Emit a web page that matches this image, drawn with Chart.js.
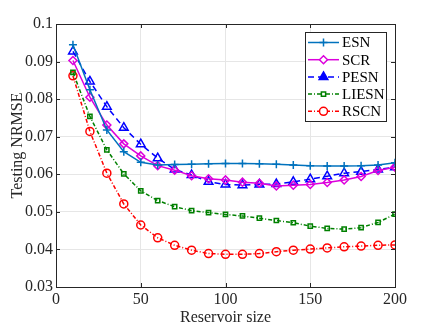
<!DOCTYPE html>
<html>
<head>
<meta charset="utf-8">
<script src="https://cdn.jsdelivr.net/npm/chart.js@4.4.1/dist/chart.umd.min.js"></script>
<style>
  html, body { margin: 0; padding: 0; background: #fff; }
  #wrap { width: 436px; height: 327px; }
</style>
</head>
<body>
<div id="wrap"><canvas id="myChart" width="436" height="327"></canvas></div>
<script>
// data
const sizes = [10, 20, 30, 40, 50, 60, 70, 80, 90, 100, 110, 120, 130, 140, 150, 160, 170, 180, 190, 200];
const esn   = [0.0945, 0.0825, 0.0718, 0.0660, 0.0632, 0.0625, 0.0626, 0.0627, 0.0628, 0.0629, 0.0629, 0.0628, 0.0627, 0.0625, 0.0623, 0.0622, 0.0622, 0.0623, 0.0625, 0.0631];
const scr   = [0.0903, 0.0805, 0.0731, 0.0681, 0.0649, 0.0623, 0.0611, 0.0596, 0.0588, 0.0585, 0.0579, 0.0576, 0.0569, 0.0571, 0.0573, 0.0578, 0.0585, 0.0594, 0.0610, 0.0619];
const pesn  = [0.0927, 0.0847, 0.0780, 0.0724, 0.0680, 0.0643, 0.0613, 0.0598, 0.0580, 0.0573, 0.0571, 0.0573, 0.0574, 0.0580, 0.0587, 0.0595, 0.0603, 0.0607, 0.0613, 0.0619];
const liesn = [0.0871, 0.0754, 0.0665, 0.0601, 0.0556, 0.0530, 0.0514, 0.0503, 0.0498, 0.0493, 0.0489, 0.0483, 0.0477, 0.0471, 0.0462, 0.0456, 0.0454, 0.0458, 0.0472, 0.0494];
const rscn  = [0.0862, 0.0714, 0.0603, 0.0521, 0.0465, 0.0431, 0.0411, 0.0398, 0.0389, 0.0387, 0.0387, 0.0389, 0.0394, 0.0398, 0.0401, 0.0404, 0.0407, 0.0409, 0.0411, 0.0412];

const xTicks = [0, 50, 100, 150, 200];
const yTicks = [0.03, 0.04, 0.05, 0.06, 0.07, 0.08, 0.09, 0.1];
const yTitle = 'Testing NRMSE';

const FONT = "'Liberation Serif', 'Times New Roman', serif";
const AXIS = '#262626';

const toXY = (ys) => sizes.map((x, i) => ({ x: x, y: ys[i] }));

function series(label, ys, color, style, radius, dash) {
  return {
    label: label,
    data: toXY(ys),
    borderColor: color,
    backgroundColor: color,
    borderWidth: 1.5,
    borderDash: dash,
    pointStyle: style,
    pointRadius: radius,
    pointBorderColor: color,
    pointBackgroundColor: 'rgba(0,0,0,0)',
    pointBorderWidth: 1.5,
    tension: 0
  };
}

// box, inner ticks, y title and the legend, drawn MATLAB style
const boxPlugin = {
  id: 'box',
  afterDraw(chart) {
    const { ctx, chartArea: a, scales } = chart;
    ctx.save();
    ctx.strokeStyle = AXIS;
    ctx.lineWidth = 1;
    ctx.setLineDash([]);
    ctx.strokeRect(a.left + 0.5, a.top + 0.5, a.right - a.left, a.bottom - a.top);
    ctx.beginPath();
    yTicks.forEach(v => {
      const y = Math.round(scales.y.getPixelForValue(v)) + 0.5;
      ctx.moveTo(a.left, y); ctx.lineTo(a.left + 4, y);
      ctx.moveTo(a.right, y); ctx.lineTo(a.right - 4, y);
    });
    xTicks.forEach(v => {
      const x = Math.round(scales.x.getPixelForValue(v)) + 0.5;
      ctx.moveTo(x, a.bottom); ctx.lineTo(x, a.bottom - 4);
      ctx.moveTo(x, a.top); ctx.lineTo(x, a.top + 4);
    });
    ctx.stroke();

    // y axis title (sits a little above the axis middle in the original)
    ctx.save();
    ctx.translate(18, 145.5);
    ctx.rotate(-Math.PI / 2);
    ctx.font = '16px ' + FONT;
    ctx.fillStyle = AXIS;
    ctx.textAlign = 'center';
    ctx.textBaseline = 'middle';
    ctx.fillText(yTitle, 0, 0);
    ctx.restore();

    // legend
    const lx = 305, ly = 32, lw = 81, lh = 89, row = 17.2;
    ctx.fillStyle = '#fff';
    ctx.fillRect(lx, ly, lw, lh);
    ctx.strokeRect(lx + 0.5, ly + 0.5, lw, lh);
    ctx.font = '15px ' + FONT;
    ctx.textBaseline = 'middle';
    chart.data.datasets.forEach((ds, i) => {
      const y = ly + 10.5 + i * row;
      ctx.strokeStyle = ds.borderColor;
      ctx.lineWidth = ds.borderWidth;
      ctx.setLineDash(ds.borderDash || []);
      ctx.beginPath();
      ctx.moveTo(lx + 3, y); ctx.lineTo(lx + 34, y);
      ctx.stroke();
      ctx.setLineDash([]);
      ctx.fillStyle = ds.pointStyle === 'triangle' ? ds.borderColor : '#fff';
      Chart.helpers.drawPoint(ctx, {
        pointStyle: ds.pointStyle, radius: ds.pointRadius, rotation: 0,
        borderWidth: ds.pointBorderWidth
      }, lx + 18.5, y);
      ctx.fillStyle = '#000';
      ctx.fillText(ds.label, lx + 37, y + 1);
    });
    ctx.restore();
  }
};

new Chart('myChart', {
  type: 'line',
  data: {
    datasets: [
      series('ESN', esn, 'rgb(0,114,189)', 'cross', 4, []),
      series('SCR', scr, 'rgb(220,0,220)', 'rectRot', 4, []),
      series('PESN', pesn, 'rgb(0,0,255)', 'triangle', 5, [6, 4]),
      series('LIESN', liesn, 'rgb(0,128,0)', 'rect', 3, [4, 2, 1, 2]),
      series('RSCN', rscn, 'rgb(255,0,0)', 'circle', 4, [4, 2, 1, 2])
    ]
  },
  options: {
    responsive: false,
    animation: false,
    layout: { padding: { left: 0, top: 24, right: 41, bottom: 0 } },
    plugins: { legend: { display: false }, tooltip: { enabled: false } },
    scales: {
      x: {
        type: 'linear',
        min: 0, max: 200,
        afterFit: (s) => { s.height = 40; },
        afterBuildTicks: (s) => { s.ticks = xTicks.map(v => ({ value: v })); },
        grid: { color: 'rgb(230,230,230)', drawTicks: false },
        border: { display: false },
        ticks: { color: AXIS, padding: 3, maxRotation: 0, font: { family: FONT, size: 16 } },
        title: { display: true, text: 'Reservoir size', color: AXIS, padding: { top: 0, bottom: 0 }, font: { family: FONT, size: 16 } }
      },
      y: {
        min: 0.03, max: 0.1,
        afterFit: (s) => { s.width = 56; },
        afterBuildTicks: (s) => { s.ticks = yTicks.map(v => ({ value: v })); },
        grid: { color: 'rgb(230,230,230)', drawTicks: false },
        border: { display: false },
        ticks: {
          color: AXIS, padding: 3, font: { family: FONT, size: 16 },
          callback: (v) => String(+v.toFixed(2))
        },
        title: { display: false }
      }
    }
  },
  plugins: [boxPlugin]
});
</script>
</body>
</html>
